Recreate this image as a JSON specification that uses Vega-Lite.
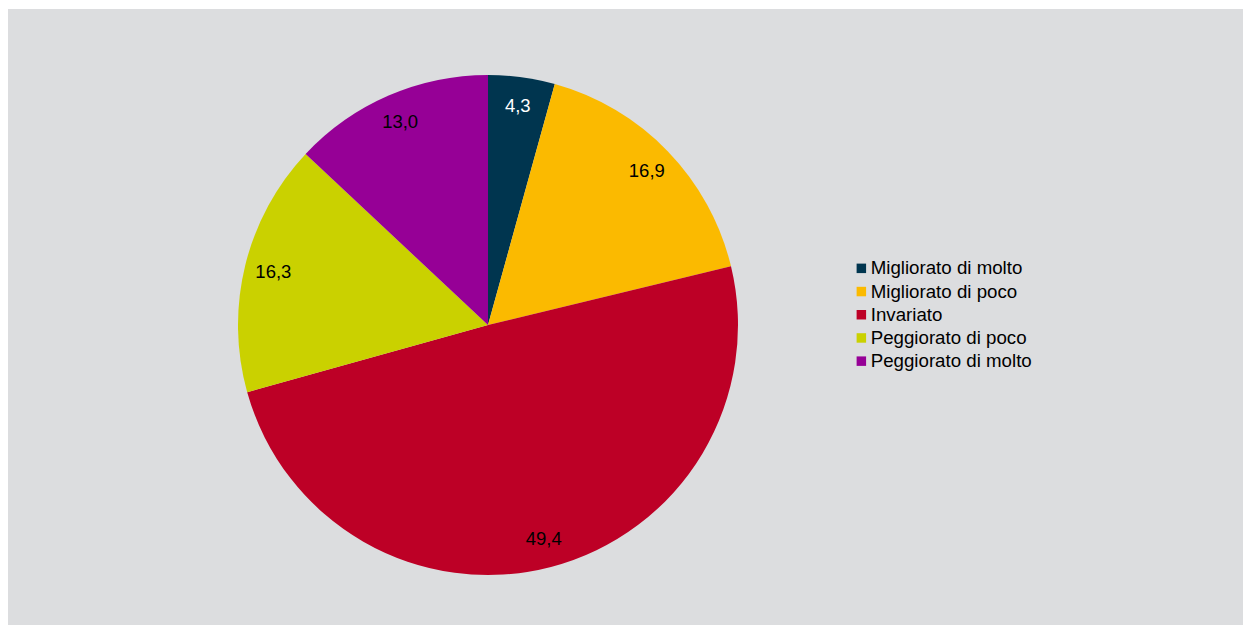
{
  "$schema": "https://vega.github.io/schema/vega-lite/v6.json",
  "background": "#ffffff",
  "padding": {"left": 8, "top": 9, "right": 0, "bottom": 0},
  "config": {
    "view": {"stroke": null, "fill": "#dcdddf"},
    "font": "Liberation Sans",
    "locale": {"number": {"decimal": ",", "thousands": ".", "grouping": [3], "currency": ["€", ""]}}
  },
  "data": {
    "values": [
      {"ord": 1, "cat": "Migliorato di molto", "pct": 4.3},
      {"ord": 2, "cat": "Migliorato di poco", "pct": 16.9},
      {"ord": 3, "cat": "Invariato", "pct": 49.4},
      {"ord": 4, "cat": "Peggiorato di poco", "pct": 16.3},
      {"ord": 5, "cat": "Peggiorato di molto", "pct": 13.0}
    ]
  },
  "spacing": 0,
  "hconcat": [
    {
      "width": 960,
      "height": 616,
      "view": {"fill": "#dcdddf", "stroke": null},
      "encoding": {
        "theta": {"field": "pct", "type": "quantitative", "stack": true},
        "order": {"field": "ord", "type": "ordinal"}
      },
      "layer": [
        {
          "mark": {"type": "arc", "outerRadius": 250, "yOffset": 8, "stroke": null},
          "encoding": {
            "color": {
              "field": "cat",
              "type": "nominal",
              "sort": null,
              "scale": {
                "domain": ["Migliorato di molto", "Migliorato di poco", "Invariato", "Peggiorato di poco", "Peggiorato di molto"],
                "range": ["#00354f", "#fbba00", "#bd0026", "#cad100", "#960096"]
              },
              "legend": {
                "title": null,
                "orient": "none",
                "legendX": 844,
                "legendY": 250,
                "symbolType": "square",
                "symbolSize": 90,
                "symbolStrokeWidth": 0,
                "symbolOpacity": 1,
                "labelFontSize": 18.7,
                "labelFont": "Liberation Sans",
                "labelColor": "#000000",
                "labelOffset": 0,
                "rowPadding": 3.2,
                "labelLimit": 400
              }
            }
          }
        },
        {
          "mark": {"type": "text", "radius": 221, "yOffset": 8, "fontSize": 18.5, "font": "Liberation Sans", "align": "center", "baseline": "middle"},
          "encoding": {
            "text": {"field": "pct", "type": "quantitative", "format": ".1f"},
            "color": {
              "condition": {"test": "datum.cat === 'Migliorato di molto'", "value": "#ffffff"},
              "value": "#000000"
            }
          }
        }
      ]
    },
    {
      "width": 275,
      "height": 616,
      "view": {"fill": "#dcdddf", "stroke": null},
      "mark": {"type": "point", "opacity": 0}
    }
  ]
}
